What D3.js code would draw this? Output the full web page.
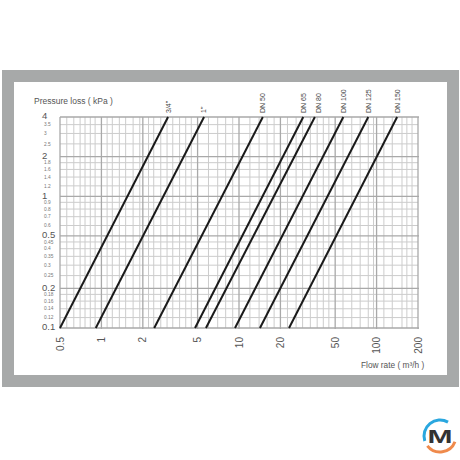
<!DOCTYPE html>
<html><head><meta charset="utf-8">
<script src="https://cdn.jsdelivr.net/npm/d3@7"></script>
<style>body{margin:0;background:#fff}svg{display:block}text{font-family:"Liberation Sans",Arial,sans-serif}</style>
</head><body>
<script>
// ---- data ----
const sizes = ['3/4"', '1"', 'DN 50', 'DN 65', 'DN 80', 'DN 100', 'DN 125', 'DN 150'];
const flowAtLow = [0.5, 0.91, 2.42, 4.79, 5.75, 9.35, 14.2, 23.1];   // m3/h at 0.1 kPa
const flowAtHigh = [3.05, 5.57, 14.9, 29.3, 35.6, 57.3, 87, 141];    // m3/h at 4 kPa
const pressureEnds = [0.1, 4];
const xTicks = [0.5, 1, 2, 5, 10, 20, 50, 100, 200];
const xMinor = [0.56, 0.63, 0.7, 0.76, 0.83, 0.9, 1.1, 1.2, 1.35, 1.5, 1.7, 1.9,
  2.2, 2.4, 2.7, 3, 3.3, 3.7, 4.1, 4.5, 6, 7, 8, 9, 12, 14, 16, 18,
  22.5, 26, 29, 33, 37, 41, 45, 57, 66, 76, 87, 95, 113, 130, 153, 166, 181];
const yMajor = [0.1, 0.2, 0.5, 1, 2, 4];
const yMinor = [0.12, 0.14, 0.16, 0.18, 0.25, 0.3, 0.35, 0.4, 0.45, 0.6, 0.7, 0.8, 0.9,
  1.2, 1.4, 1.6, 1.8, 2.5, 3, 3.5];

const W = 460, H = 460;
const svg = d3.select('body').append('svg').attr('width', W).attr('height', H);

// frame
svg.append('rect').attr('x', 2).attr('y', 70).attr('width', 457).attr('height', 317).attr('fill', '#a7a9a9');
svg.append('rect').attr('x', 14).attr('y', 82).attr('width', 433).attr('height', 293).attr('fill', '#fff');

const x = d3.scaleLog().domain([0.5, 200]).range([60, 418]);
const y = d3.scaleLog().domain([0.1, 4]).range([328, 117]);

const g = svg.append('g');
// minor grid
g.selectAll('.vx').data(xMinor).join('line')
  .attr('x1', d => x(d)).attr('x2', d => x(d)).attr('y1', y(4)).attr('y2', y(0.1))
  .attr('stroke', '#cccccc').attr('stroke-width', 1);
g.selectAll('.hy').data(yMinor).join('line')
  .attr('x1', x(0.5)).attr('x2', x(200)).attr('y1', d => y(d)).attr('y2', d => y(d))
  .attr('stroke', '#cccccc').attr('stroke-width', 1);
// major grid
g.selectAll('.vX').data(xTicks).join('line')
  .attr('x1', d => x(d)).attr('x2', d => x(d)).attr('y1', y(4)).attr('y2', y(0.1) + 1)
  .attr('stroke', '#a9a9a9').attr('stroke-width', 1.3);
g.selectAll('.hY').data(yMajor).join('line')
  .attr('x1', x(0.5)).attr('x2', x(200) + 1).attr('y1', d => y(d)).attr('y2', d => y(d))
  .attr('stroke', '#a9a9a9').attr('stroke-width', 1.3);

// y labels
const fmt = d => String(d);
svg.selectAll('.ylM').data(yMajor).join('text')
  .attr('x', 42).attr('y', d => y(d) - 1).attr('dy', '0.35em')
  .attr('font-size', 9.5).attr('fill', '#555').text(fmt);
svg.selectAll('.ylm').data(yMinor).join('text')
  .attr('x', 44).attr('y', d => y(d)).attr('dy', '0.35em')
  .attr('font-size', 4.8).attr('fill', '#777').text(fmt);

// x labels
svg.selectAll('.xl').data(xTicks).join('text')
  .attr('transform', d => `translate(${x(d)},337) rotate(-90)`)
  .attr('dy', '0.35em').attr('text-anchor', 'end')
  .attr('font-size', 10).attr('fill', '#555').text(fmt);

// lines
const lineData = sizes.map((s, i) => ({ name: s, pts: [[flowAtLow[i], pressureEnds[0]], [flowAtHigh[i], pressureEnds[1]]] }));
const lineGen = d3.line().x(d => x(d[0])).y(d => y(d[1]));
svg.selectAll('.ln').data(lineData).join('path')
  .attr('d', d => lineGen(d.pts)).attr('fill', 'none')
  .attr('stroke', '#1a1a1a').attr('stroke-width', 2);

// line labels
svg.selectAll('.ll').data(lineData).join('text')
  .attr('transform', d => `translate(${x(d.pts[1][0]) + (d.name === 'DN 80' ? 4 : 0)},113) rotate(-90)`)
  .attr('dy', '0.35em').attr('text-anchor', 'start')
  .attr('font-size', 7).attr('fill', '#444').text(d => d.name);

// axis titles
svg.append('text').attr('x', 34).attr('y', 104).attr('font-size', 8.5).attr('fill', '#555')
  .text('Pressure loss ( kPa )');
svg.append('text').attr('x', 361).attr('y', 368).attr('font-size', 8.3).attr('fill', '#555')
  .text('Flow rate ( m³/h )');

// logo
const lg = svg.append('g').attr('transform', 'translate(440,436)');
const arc = d3.arc().innerRadius(14.5).outerRadius(17.5);
lg.append('path').attr('d', arc({ startAngle: -108 * Math.PI / 180, endAngle: 30 * Math.PI / 180 })).attr('fill', '#2aa7df');
lg.append('path').attr('d', arc({ startAngle: 111 * Math.PI / 180, endAngle: 232 * Math.PI / 180 })).attr('fill', '#ef8a4c');
lg.append('text').attr('x', 0).attr('y', 7).attr('text-anchor', 'middle')
  .attr('font-size', 18).attr('font-weight', 'bold').attr('fill', '#333')
  .attr('textLength', 25).attr('lengthAdjust', 'spacingAndGlyphs').text('M');
</script>
</body></html>
